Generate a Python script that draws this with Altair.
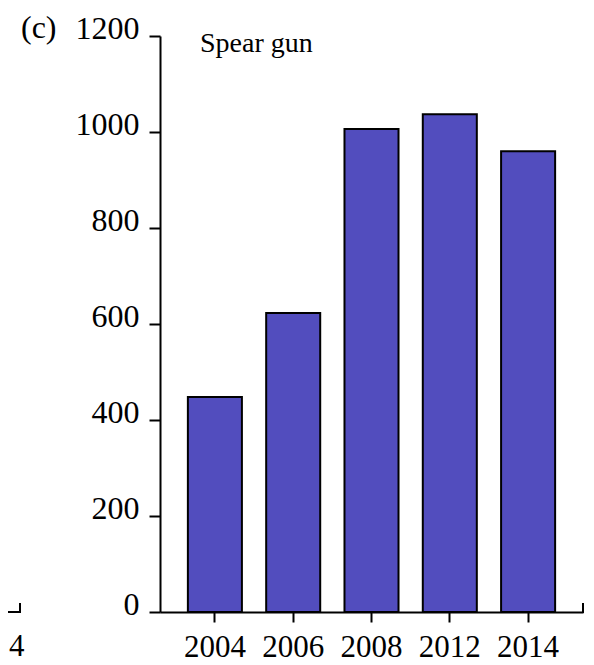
import altair as alt
import pandas as pd

years = ["2004", "2006", "2008", "2012", "2014"]
values = [448, 623, 1006, 1037, 960]
y_ticks = [0, 200, 400, 600, 800, 1000, 1200]

panel_label = "(c)"
panel_title = "Spear gun"
neighbour_tail = "4"

FONT = "Liberation Serif, Times New Roman, serif"
W, H = 423, 576

df = pd.DataFrame({"year": years, "count": values})
one = alt.Data(values=[{"k": 1}])

bars = alt.Chart(df).mark_bar(
    color="#524DBE", stroke="black", strokeWidth=2
).encode(
    x=alt.X("year:N", sort=years,
            scale=alt.Scale(paddingInner=0.31, paddingOuter=0.356),
            axis=alt.Axis(title=None, labelAngle=0, labelBaseline="alphabetic",
                          labelPadding=34, tickSize=10, labelFontSize=31)),
    y=alt.Y("count:Q", scale=alt.Scale(domain=[0, 1200], nice=False),
            axis=alt.Axis(title=None, values=y_ticks, format="d",
                          labelBaseline="alphabetic",
                          labelOffset=2, labelPadding=10, tickSize=11,
                          labelFontSize=32)),
)

right_tick = alt.Chart(one).mark_rule(color="black", strokeWidth=2).encode(
    x=alt.value(W), y=alt.value(H - 9), y2=alt.value(H + 1)
)

label_c = alt.Chart(one).mark_text(
    text=panel_label, font=FONT, fontSize=32, align="left",
    baseline="alphabetic", color="black"
).encode(x=alt.value(-139), y=alt.value(2))

title = alt.Chart(one).mark_text(
    text=panel_title, font=FONT, fontSize=28, align="left",
    baseline="alphabetic", color="black"
).encode(x=alt.value(40), y=alt.value(16))

left_line = alt.Chart(one).mark_rule(color="black", strokeWidth=2).encode(
    x=alt.value(-170), x2=alt.value(-139), y=alt.value(H)
)
left_tick = alt.Chart(one).mark_rule(color="black", strokeWidth=2).encode(
    x=alt.value(-140), y=alt.value(H - 9), y2=alt.value(H + 1)
)
left_text = alt.Chart(one).mark_text(
    text=neighbour_tail, font=FONT, fontSize=31, align="left",
    baseline="alphabetic", color="black"
).encode(x=alt.value(-151), y=alt.value(H + 44))

chart = alt.layer(
    bars, right_tick, label_c, title, left_line, left_tick, left_text
).properties(
    width=W, height=H,
    autosize=alt.AutoSizeParams(type="none"),
    padding={"left": 152, "top": 28, "right": 3, "bottom": 52},
).configure_view(stroke=None).configure_axis(
    domainColor="black", domainWidth=2, tickColor="black", tickWidth=2,
    labelFont=FONT, labelColor="black", grid=False,
).configure_text(font=FONT)

chart.save("out.html", embed_options={"renderer": "svg", "actions": False})
